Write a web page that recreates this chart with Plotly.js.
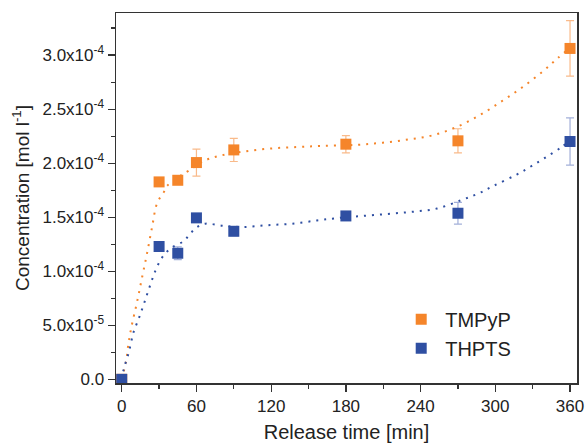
<!DOCTYPE html>
<html>
<head>
<meta charset="utf-8">
<script src="https://cdn.plot.ly/plotly-3.0.1.min.js"></script>
<style>html,body{margin:0;padding:0;background:#fff;}#chart{width:587px;height:443px;}</style>
</head>
<body>
<div id="chart"></div>
<script>
// Measured data
const timeMin = [0, 30, 45, 60, 90, 180, 270, 360];
const tmpypConc = [0, 1.827e-4, 1.842e-4, 2.006e-4, 2.123e-4, 2.176e-4, 2.207e-4, 3.062e-4];
const tmpypErr = [0, 0, 0, 1.25e-5, 1.07e-5, 0.8e-5, 1.12e-5, 2.57e-5];
const thptsConc = [0, 1.229e-4, 1.167e-4, 1.494e-4, 1.370e-4, 1.512e-4, 1.537e-4, 2.201e-4];
const thptsErr = [0, 0, 6.0e-6, 0, 4.0e-6, 0, 1.0e-5, 2.18e-5];

// Fitted (dotted) curves
const tmpypFitX = [0, 3.5, 5.4, 7.8, 12.3, 16.4, 20.4, 24.4, 28.4, 33.7, 36.4, 47.9, 53.8, 65.8, 79.2, 99.2, 119.5, 140.7, 160.8, 188.9, 209.7, 230.3, 250.4, 269.9, 288.3, 306, 322.6, 339.2, 349.9, 360];
const tmpypFitY = [0, 1.69e-5, 3.3e-5, 4.84e-5, 7.16e-5, 9.47e-5, 1.17e-4, 1.41e-4, 1.63e-4, 1.73e-4, 1.79e-4, 1.89e-4, 1.93e-4, 2.02e-4, 2.07e-4, 2.11e-4, 2.136e-4, 2.15e-4, 2.16e-4, 2.17e-4, 2.19e-4, 2.22e-4, 2.26e-4, 2.34e-4, 2.45e-4, 2.58e-4, 2.71e-4, 2.86e-4, 2.97e-4, 3.07e-4];
const thptsFitX = [0, 1.6, 5.6, 9.6, 13.6, 17.7, 22.2, 27, 32.4, 39.1, 49.8, 55.1, 60.5, 67.2, 81.9, 97.9, 116.7, 136.7, 156.8, 171.5, 191.5, 212.9, 233, 253, 273.1, 286.5, 298.5, 317.2, 329.3, 341.3, 353.3, 360];
const thptsFitY = [0, 9.3e-6, 2.47e-5, 4.4e-5, 5.6e-5, 6.94e-5, 8.49e-5, 1.003e-4, 1.127e-4, 1.21e-4, 1.28e-4, 1.35e-4, 1.41e-4, 1.44e-4, 1.42e-4, 1.41e-4, 1.426e-4, 1.44e-4, 1.47e-4, 1.49e-4, 1.51e-4, 1.53e-4, 1.55e-4, 1.58e-4, 1.66e-4, 1.72e-4, 1.79e-4, 1.895e-4, 1.975e-4, 2.06e-4, 2.15e-4, 2.21e-4];

const xTickVals = [0, 60, 120, 180, 240, 300, 360];
const xTickText = ['0', '60', '120', '180', '240', '300', '360'];
const yTickVals = [0, 5e-5, 1e-4, 1.5e-4, 2e-4, 2.5e-4, 3e-4];
const yTickText = ['0.0', '5.0x10<sup>-5</sup>', '1.0x10<sup>-4</sup>', '1.5x10<sup>-4</sup>', '2.0x10<sup>-4</sup>', '2.5x10<sup>-4</sup>', '3.0x10<sup>-4</sup>'];

const orange = '#F5852A';
const blue = '#2F4FA2';

const traces = [
  {x: tmpypFitX, y: tmpypFitY, mode: 'lines', line: {color: orange, width: 2, dash: '2px,6px', shape: 'spline'}, showlegend: false, hoverinfo: 'skip'},
  {x: thptsFitX, y: thptsFitY, mode: 'lines', line: {color: blue, width: 2, dash: '2px,6px', shape: 'spline'}, showlegend: false, hoverinfo: 'skip'},
  {x: timeMin, y: tmpypConc, name: 'TMPyP', mode: 'markers', marker: {symbol: 'square', size: 11, color: orange},
   error_y: {type: 'data', array: tmpypErr, visible: true, color: 'rgba(245,140,60,0.6)', thickness: 1.2, width: 4}},
  {x: timeMin, y: thptsConc, name: 'THPTS', mode: 'markers', marker: {symbol: 'square', size: 11, color: blue},
   error_y: {type: 'data', array: thptsErr, visible: true, color: 'rgba(70,95,180,0.5)', thickness: 1.2, width: 4}}
];

const layout = {
  width: 587, height: 443,
  margin: {l: 115.5, r: 10, t: 12.5, b: 60.3},
  paper_bgcolor: '#fff', plot_bgcolor: '#fff',
  font: {family: 'Liberation Sans, Arial, sans-serif', color: '#222'},
  showlegend: true,
  legend: {x: 0.61, y: 0.225, xanchor: 'left', yanchor: 'top', font: {size: 20, color: '#222'}, bgcolor: 'rgba(0,0,0,0)', itemwidth: 38, tracegroupgap: 0},
  xaxis: {
    range: [-4.6, 365.6], showgrid: false, zeroline: false,
    showline: true, linecolor: '#333', linewidth: 1.5, mirror: true,
    ticks: 'outside', ticklen: 7, tickwidth: 1.3, tickcolor: '#333',
    tickvals: xTickVals, ticktext: xTickText, tickfont: {size: 17},
    minor: {tickvals: [30, 90, 150, 210, 270, 330], ticks: 'outside', ticklen: 4, tickwidth: 1.3, tickcolor: '#333'},
    title: {text: 'Release time [min]', font: {size: 20}, standoff: 17}
  },
  yaxis: {
    range: [-3.4e-6, 3.39e-4], showgrid: false, zeroline: false,
    showline: true, linecolor: '#333', linewidth: 1.5, mirror: true,
    ticks: 'outside', ticklen: 7, tickwidth: 1.3, tickcolor: '#333',
    tickvals: yTickVals, ticktext: yTickText, tickfont: {size: 17},
    minor: {tickvals: [2.5e-5, 7.5e-5, 1.25e-4, 1.75e-4, 2.25e-4, 2.75e-4, 3.25e-4], ticks: 'outside', ticklen: 4, tickwidth: 1.3, tickcolor: '#333'},
    title: {text: 'Concentration [mol l<sup>-1</sup>]', font: {size: 19}, standoff: 8}
  }
};

Plotly.newPlot('chart', traces, layout, {displayModeBar: false, staticPlot: true});
</script>
</body>
</html>
